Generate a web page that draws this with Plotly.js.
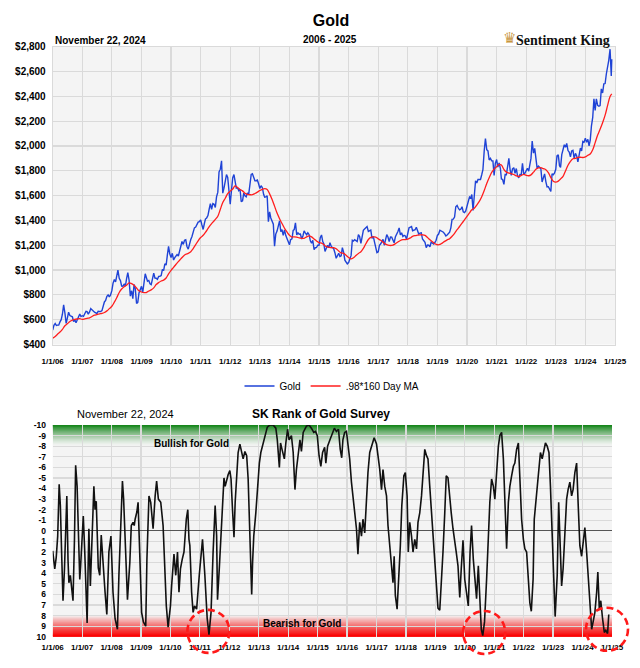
<!DOCTYPE html>
<html><head><meta charset="utf-8">
<script src="https://cdn.plot.ly/plotly-3.0.1.min.js"></script>
<style>html,body{margin:0;padding:0;background:#fff}#chart{width:640px;height:668px}</style>
</head><body><div id="chart"></div>
<script>
// ---------- DATA ----------
// Gold price, semi-monthly: 2006-01-01, then (16th, 1st of next month) for each month
const goldPrice = [517,
 555,569, 553,556, 556,582, 600,644, 720,653, 570,613, 660,633, 625,623, 585,599, 575,604, 625,646, 625,632,
 627,650, 668,665, 645,662, 690,679, 665,660, 655,650, 668,665, 665,673, 712,743, 755,789, 800,783, 800,834,
 895,923, 905,971, 1000,933, 915,871, 870,886, 870,930, 980,918, 790,833, 770,884, 850,730, 740,815, 840,869,
 820,919, 970,942, 910,916, 890,883, 935,975, 935,934, 925,949, 950,955, 1005,996, 1050,1040, 1120,1190, 1130,1100,
 1135,1081, 1100,1116, 1125,1113, 1150,1180, 1230,1207, 1240,1244, 1190,1169, 1215,1246, 1270,1307, 1340,1346, 1370,1386, 1390,1405,
 1365,1327, 1375,1411, 1420,1439, 1490,1535, 1490,1536, 1530,1505, 1590,1628, 1790,1813, 1880,1620, 1660,1722, 1770,1746, 1600,1531,
 1640,1744, 1770,1696, 1660,1662, 1640,1651, 1550,1558, 1620,1598, 1590,1622, 1610,1692, 1770,1776, 1750,1719, 1720,1726, 1695,1657,
 1680,1664, 1610,1588, 1590,1598, 1390,1469, 1420,1394, 1370,1192, 1290,1314, 1360,1396, 1310,1326, 1280,1324, 1280,1253, 1230,1204,
 1245,1251, 1320,1326, 1380,1284, 1300,1288, 1290,1250, 1275,1315, 1300,1285, 1300,1285, 1235,1216, 1240,1164, 1180,1182, 1200,1199,
 1260,1283, 1230,1213, 1150,1183, 1200,1180, 1220,1190, 1180,1172, 1140,1095, 1115,1135, 1110,1115, 1180,1142, 1080,1061, 1050,1060,
 1090,1118, 1240,1234, 1245,1233, 1230,1286, 1270,1215, 1290,1320, 1330,1343, 1350,1311, 1320,1322, 1255,1272, 1225,1178, 1140,1146,
 1200,1212, 1235,1248, 1200,1245, 1285,1266, 1230,1266, 1265,1242, 1220,1269, 1285,1311, 1340,1283, 1300,1270, 1280,1275, 1250,1291,
 1340,1345, 1350,1317, 1320,1325, 1345,1316, 1290,1298, 1300,1250, 1240,1224, 1180,1201, 1200,1187, 1225,1215, 1210,1222, 1240,1279,
 1290,1321, 1315,1313, 1305,1292, 1275,1283, 1295,1305, 1340,1409, 1410,1427, 1510,1520, 1500,1485, 1490,1510, 1470,1464, 1475,1515,
 1555,1589, 1580,1609, 1480,1608, 1720,1702, 1730,1730, 1730,1768, 1810,1962, 2060,1970, 1960,1887, 1900,1880, 1880,1762, 1860,1891,
 1830,1863, 1820,1734, 1730,1691, 1770,1768, 1840,1900, 1810,1763, 1815,1825, 1780,1818, 1760,1743, 1770,1769, 1860,1776, 1780,1806,
 1820,1797, 1860,1900, 2040,1942, 1980,1911, 1820,1837, 1830,1817, 1710,1753, 1775,1711, 1670,1672, 1650,1634, 1775,1768, 1780,1812,
 1920,1928, 1840,1827, 1930,1969, 2010,1990, 2020,1963, 1950,1912, 1960,1965, 1900,1940, 1920,1871, 1920,1983, 1960,2036, 2030,2063,
 2030,2053, 2000,2044, 2160,2230, 2380,2286, 2380,2327, 2320,2326, 2460,2427, 2500,2503, 2580,2634, 2690,2780, 2565];
const goldLastDate = '2024-11-22';
const goldLastPrice = 2700;

// .98 * 160 day moving average, monthly (1st of each month from 2006-01)
const maPrice = [
 451,465,483,500,522,551,567,585,596,602,606,609,
 602,607,611,615,626,637,641,647,651,658,671,689,
 708,741,777,819,847,866,878,897,890,877,855,833,
 823,818,819,831,840,856,883,899,912,919,936,969,
 998,1022,1045,1068,1090,1112,1127,1135,1148,1173,1205,1236,
 1262,1280,1304,1334,1362,1386,1408,1434,1490,1545,1579,1616,
 1636,1653,1678,1666,1649,1638,1619,1610,1607,1607,1617,1628,
 1641,1651,1656,1650,1614,1568,1515,1459,1414,1375,1337,1307,
 1281,1266,1268,1266,1259,1255,1256,1268,1275,1267,1250,1234,
 1221,1217,1205,1189,1184,1180,1181,1171,1153,1138,1135,1120,
 1101,1090,1099,1117,1134,1148,1174,1212,1246,1264,1267,1266,
 1251,1240,1225,1209,1201,1198,1201,1213,1226,1238,1245,1246,
 1249,1259,1272,1278,1281,1284,1284,1280,1262,1244,1228,1212,
 1204,1206,1217,1231,1243,1253,1272,1296,1325,1351,1379,1404,
 1432,1460,1486,1498,1523,1553,1591,1641,1698,1744,1787,1813,
 1833,1852,1846,1811,1789,1782,1778,1770,1759,1754,1762,1771,
 1763,1760,1767,1789,1812,1823,1825,1817,1809,1785,1745,1716,
 1709,1717,1734,1755,1799,1845,1876,1897,1900,1908,1909,1907,
 1912,1925,1935,1969,2027,2088,2135,2187,2248,2325,2399];
const maLastDate = '2024-11-22';
const maLastPrice = 2420;

// SK Rank of Gold Survey (decimal years, rank)
const skYears = [
 2006.00,2006.07,2006.12,2006.17,2006.22,2006.26,2006.31,2006.35,2006.40,2006.44,2006.48,2006.52,2006.55,2006.60,2006.65,2006.69,2006.74,2006.78,2006.83,2006.87,2006.92,2006.95,
 2007.00,2007.04,2007.09,2007.13,2007.17,2007.20,2007.23,2007.28,2007.35,2007.40,2007.44,2007.48,2007.55,2007.60,2007.65,2007.70,2007.78,2007.84,2007.91,2007.98,
 2008.05,2008.12,2008.20,2008.25,2008.31,2008.37,2008.41,2008.48,2008.54,2008.62,2008.67,2008.73,2008.77,2008.80,2008.86,2008.90,2008.96,
 2009.02,2009.08,2009.16,2009.20,2009.27,2009.33,2009.41,2009.48,2009.53,2009.59,2009.67,2009.75,2009.80,2009.86,2009.92,
 2010.00,2010.04,2010.09,2010.12,2010.18,2010.24,2010.29,2010.34,2010.40,2010.46,2010.54,2010.59,2010.63,2010.66,2010.72,2010.77,2010.82,2010.89,2010.98,
 2011.09,2011.17,2011.25,2011.31,2011.38,2011.45,2011.52,2011.57,2011.60,2011.66,2011.71,2011.77,2011.82,2011.86,2011.91,2011.96,
 2012.02,2012.06,2012.11,2012.16,2012.20,2012.25,2012.30,2012.36,2012.41,2012.47,2012.53,2012.59,2012.64,2012.70,2012.76,2012.79,2012.83,2012.90,2012.96,
 2013.02,2013.07,2013.15,2013.21,2013.29,2013.38,2013.49,2013.58,2013.63,2013.70,2013.74,2013.79,2013.87,2013.92,2013.98,
 2014.03,2014.11,2014.17,2014.23,2014.28,2014.34,2014.40,2014.45,2014.51,2014.62,2014.71,2014.79,2014.87,2014.93,2014.99,
 2015.05,2015.11,2015.17,2015.24,2015.28,2015.34,2015.42,2015.50,2015.57,2015.64,2015.71,2015.77,2015.82,2015.86,2015.92,2015.98,
 2016.03,2016.09,2016.15,2016.20,2016.26,2016.32,2016.37,2016.43,2016.49,2016.54,2016.60,2016.66,2016.71,2016.77,2016.85,2016.92,
 2017.00,2017.05,2017.11,2017.17,2017.22,2017.28,2017.34,2017.39,2017.45,2017.51,2017.56,2017.60,2017.64,2017.70,2017.76,2017.81,2017.86,2017.93,2017.98,
 2018.04,2018.08,2018.13,2018.19,2018.24,2018.30,2018.36,2018.41,2018.47,2018.53,2018.58,2018.64,2018.70,2018.75,2018.81,2018.87,2018.92,2018.98,
 2019.03,2019.09,2019.15,2019.20,2019.26,2019.32,2019.37,2019.43,2019.49,2019.54,2019.60,2019.66,2019.71,2019.77,2019.83,2019.88,2019.94,
 2020.00,2020.05,2020.12,2020.18,2020.23,2020.29,2020.34,2020.40,2020.46,2020.51,2020.56,2020.61,2020.67,2020.74,2020.80,2020.85,2020.91,2020.97,
 2021.02,2021.08,2021.14,2021.19,2021.25,2021.31,2021.36,2021.42,2021.48,2021.53,2021.59,2021.65,2021.70,2021.76,2021.82,2021.87,2021.93,2021.99,
 2022.04,2022.10,2022.16,2022.21,2022.26,2022.32,2022.36,2022.40,2022.46,2022.52,2022.57,2022.63,2022.69,2022.74,2022.80,2022.86,2022.91,2022.97,
 2023.03,2023.07,2023.14,2023.19,2023.23,2023.29,2023.34,2023.40,2023.46,2023.51,2023.57,2023.63,2023.68,2023.74,2023.80,2023.85,2023.91,2023.97,
 2024.02,2024.08,2024.14,2024.19,2024.25,2024.31,2024.36,2024.42,2024.48,2024.52,2024.57,2024.62,2024.68,2024.74,2024.79,2024.85,2024.89];
const skRank = [
 1.9,3.6,2.5,0.5,-4.4,-2.4,2.7,6.6,3.6,-1.0,-3.3,2.7,4.9,4.2,5.8,6.6,0.8,-6.2,-4.2,0.8,4.6,3.3,
 1.1,-1.4,2.0,6.0,8.7,4.0,-0.2,5.2,0.2,-4.2,-2.0,-2.8,3.5,4.2,0.4,2.7,5.8,7.9,2.0,0.5,
 5.8,8.3,9.3,4.2,-1.1,-4.7,-3.0,2.7,6.5,3.0,-0.5,-0.8,-0.5,-1.1,-1.8,-2.7,2.7,
 7.7,8.6,9.0,2.7,-3.3,-2.7,-0.2,-3.3,-4.7,-3.0,-2.7,-0.5,3.3,7.1,9.1,
 7.1,5.2,3.3,2.2,4.2,2.0,5.8,3.6,2.7,2.0,-1.1,-2.0,0.8,1.4,5.8,7.7,7.1,7.4,4.2,
 0.8,4.2,8.3,9.8,7.7,2.0,-2.4,0.5,6.5,3.6,0.8,-3.3,-5.0,-4.2,-4.9,-5.3,
 -5.7,-4.9,-2.0,0.6,-2.7,-5.5,-7.4,-8.2,-7.4,-6.8,-7.5,-7.1,-4.9,-0.2,6.0,3.0,0.5,-1.7,-4.2,
 -6.4,-7.4,-8.3,-9.1,-9.8,-10,-10,-9.7,-8.6,-6.0,-8.3,-7.7,-6.8,-8.3,-9.6,
 -8.6,-9.0,-7.4,-3.9,-5.8,-7.1,-8.6,-7.5,-9.3,-9.9,-10,-9.7,-9.3,-9.4,-9.0,
 -7.1,-6.1,-7.4,-7.9,-6.4,-8.0,-8.6,-9.3,-9.7,-9.4,-9.6,-7.7,-6.9,-8.6,-9.3,-9.4,
 -8.3,-6.8,-4.6,-3.3,-1.7,-0.2,2.2,-0.8,0.5,-1.1,0.2,-3.0,-5.5,-7.4,-8.3,-8.8,
 -8.2,-7.1,-5.8,-3.9,-5.8,-4.2,-3.3,-0.5,1.4,3.6,4.9,2.4,6.1,7.4,4.6,1.4,-2.4,-5.2,-5.5,
 -3.3,2.0,-0.8,0.5,2.0,0.8,1.7,-0.8,-1.7,-3.3,-5.5,-7.7,-7.1,-6.8,-4.2,-1.7,0.8,3.3,
 5.5,7.3,7.5,5.2,2.0,-1.7,-5.2,-5.0,-3.0,-1.7,-0.2,0.8,2.0,3.3,6.3,3.6,0.9,
 4.6,5.8,7.1,2.0,-0.5,2.7,4.2,6.4,3.3,6.8,9.3,9.9,8.6,4.6,-0.2,-2.7,-4.9,-4.2,
 -3.0,-5.8,-8.0,-9.0,-9.3,-6.8,-2.4,1.7,-2.7,-4.2,-5.2,-6.1,-6.4,-7.7,-8.3,-4.2,-1.1,0.8,
 1.7,2.0,4.6,6.8,7.6,4.6,-1.1,-2.4,-4.2,-5.5,-7.4,-6.8,-7.7,-8.3,-8.0,-7.4,-4.2,0.8,
 4.6,8.1,4.2,-2.7,0.5,5.2,3.6,0.2,-3.0,-3.9,-4.6,-3.3,-3.9,-5.5,-6.4,-2.7,1.4,2.4,
 1.4,-0.3,2.0,4.2,7.7,9.3,8.6,7.7,5.8,3.9,7.4,6.6,8.3,9.6,9.4,9.7,7.9];

// Tick labels
const yearTicks = ['2006-01-01','2007-01-01','2008-01-01','2009-01-01','2010-01-01','2011-01-01','2012-01-01','2013-01-01','2014-01-01','2015-01-01','2016-01-01','2017-01-01','2018-01-01','2019-01-01','2020-01-01','2021-01-01','2022-01-01','2023-01-01','2024-01-01','2025-01-01'];
const yearTickText = ['1/1/06','1/1/07','1/1/08','1/1/09','1/1/10','1/1/11','1/1/12','1/1/13','1/1/14','1/1/15','1/1/16','1/1/17','1/1/18','1/1/19','1/1/20','1/1/21','1/1/22','1/1/23','1/1/24','1/1/25'];
const priceTicks = [400,600,800,1000,1200,1400,1600,1800,2000,2200,2400,2600,2800];
const priceTickText = ['$400','$600','$800','$1,000','$1,200','$1,400','$1,600','$1,800','$2,000','$2,200','$2,400','$2,600','$2,800'];
const rankTicks = [-10,-9,-8,-7,-6,-5,-4,-3,-2,-1,0,1,2,3,4,5,6,7,8,9,10];
const rankTickText = ['-10','-9','-8','-7','-6','-5','-4','-3','-2','-1','0','1','2','3','4','5','6','7','8','9','10'];

// Highlighted bearish extremes (decimal year, rank)
const circleYears = [2011.29, 2020.66, 2024.83];
const circleRanks = [9.5, 9.6, 9.3];

// ---------- BUILD ----------
function pad(n){return (n<10?'0':'')+n;}
function ymd(d){return d.getUTCFullYear()+'-'+pad(d.getUTCMonth()+1)+'-'+pad(d.getUTCDate());}
function decToDate(y){
  const yi = Math.floor(y);
  const a = Date.UTC(yi,0,1), b = Date.UTC(yi+1,0,1);
  return new Date(a + (y-yi)*(b-a)).toISOString().slice(0,16).replace('T',' ');
}
const goldDates = goldPrice.map((v,i)=> ymd(new Date(Date.UTC(2006, Math.floor(i/2), (i%2)?16:1))));
goldDates.push(goldLastDate);
const goldVals = goldPrice.concat([goldLastPrice]);
const maDates = maPrice.map((v,i)=> ymd(new Date(Date.UTC(2006, i, 1))));
maDates.push(maLastDate);
const maVals = maPrice.concat([maLastPrice]);
const skDates = skYears.map(decToDate);

const X0 = '2006-01-01', X1 = '2025-01-01';
const x0ms = Date.UTC(2006,0,1), x1ms = Date.UTC(2025,0,1);

const traces = [
  {x: goldDates, y: goldVals, type:'scatter', mode:'lines', name:'Gold',
   line:{color:'#1f43d6', width:1.4}, xaxis:'x', yaxis:'y'},
  {x: maDates, y: maVals, type:'scatter', mode:'lines', name:'.98*160 Day MA',
   line:{color:'#ff1e1e', width:1.3, shape:'spline'}, xaxis:'x', yaxis:'y'},
  {x: skDates, y: skRank, type:'scatter', mode:'lines', name:'SK Rank',
   line:{color:'#111', width:1.6}, xaxis:'x2', yaxis:'y2', showlegend:false}
];

// gradient bands (nested translucent rectangles)
const shapes = [];
function band(edge, dir, rgb, gamma){
  const N = 30, depth = 2;
  const A = j => j>=N ? 0 : Math.pow(1 - (j+0.5)/N, gamma);
  for(let j=0;j<N;j++){
    const Aj = A(j), An = A(j+1);
    const a = 1 - (1-Aj)/(1-An);
    shapes.push({type:'rect', xref:'x2', yref:'y2', x0:X0, x1:X1,
      y0: edge, y1: edge + dir*depth*(j+1)/N,
      fillcolor: rgb, opacity: Math.max(0,Math.min(1,a)), line:{width:0}, layer:'below'});
  }
}
band(-10, 1, 'rgb(24,140,30)', 1.5);
band(10, -1, 'rgb(255,0,0)', 0.9);

// dashed circles
circleYears.forEach((yr,i)=>{
  const yi = Math.floor(yr);
  const ms = Date.UTC(yi,0,1) + (yr-yi)*(Date.UTC(yi+1,0,1)-Date.UTC(yi,0,1));
  const xf = (ms - x0ms)/(x1ms - x0ms);
  const yf = (10 - circleRanks[i])/20;
  shapes.push({type:'circle', xref:'x2 domain', yref:'y2 domain',
    xsizemode:'pixel', ysizemode:'pixel', xanchor:xf, yanchor:yf,
    x0:-21, x1:21, y0:-21.5, y1:21.5,
    line:{color:'#ff1a1a', width:2.6, dash:'7px,4px'}, layer:'above'});
});

const H = 668, W = 640;
const fy = p => 1 - p/H, fx = p => p/W;
const tickFont = {family:'Liberation Sans, Arial, sans-serif', size:8, color:'#000', weight:'bold'};

const layout = {
  width:W, height:H,
  margin:{l:0,r:0,t:0,b:0},
  paper_bgcolor:'#ffffff', plot_bgcolor:'#f4f4f4',
  font:{family:'Liberation Sans, Arial, sans-serif', color:'#000'},
  title:{text:'<b>Gold</b>', x:fx(331), y:fy(20), xanchor:'center', yanchor:'middle',
         font:{size:16, color:'#000'}},
  showlegend:true,
  legend:{orientation:'h', x:fx(332), xanchor:'center', y:fy(386), yanchor:'middle',
          font:{size:10, color:'#000'}, bgcolor:'rgba(0,0,0,0)', itemwidth:30, tracegroupgap:0},
  xaxis:{type:'date', domain:[fx(52.7), fx(615)], anchor:'y', range:[X0,X1],
         tickvals:yearTicks, ticktext:yearTickText, tickfont:tickFont,
         ticks:'outside', ticklen:9, tickcolor:'rgba(0,0,0,0)',
         showgrid:true, gridcolor:'#dadada', gridwidth:1.2,
         showline:true, mirror:true, linecolor:'#dadada', linewidth:1, zeroline:false, fixedrange:true},
  yaxis:{domain:[fy(344.5), fy(46.7)], anchor:'x', range:[400,2800],
         tickvals:priceTicks, ticktext:priceTickText,
         tickfont:{family:'Liberation Sans, Arial, sans-serif', size:10, color:'#000', weight:'bold'},
         ticks:'outside', ticklen:4, tickcolor:'rgba(0,0,0,0)',
         showgrid:true, gridcolor:'#dadada', gridwidth:1.2,
         showline:true, mirror:true, linecolor:'#dadada', zeroline:false, fixedrange:true},
  xaxis2:{type:'date', domain:[fx(52.7), fx(612)], anchor:'y2', range:[X0,X1],
          tickvals:yearTicks, ticktext:yearTickText, tickfont:tickFont,
          ticks:'outside', ticklen:3, tickcolor:'rgba(0,0,0,0)',
          showgrid:true, gridcolor:'#dadada', gridwidth:1.2,
          showline:false, zeroline:false, fixedrange:true},
  yaxis2:{domain:[fy(636.7), fy(425)], anchor:'x2', range:[10,-10],
          tickvals:rankTicks, ticktext:rankTickText,
          tickfont:{family:'Liberation Sans, Arial, sans-serif', size:8.5, color:'#000', weight:'bold'},
          ticks:'outside', ticklen:4, tickcolor:'rgba(0,0,0,0)',
          showgrid:true, gridcolor:'#dadada', gridwidth:1.2,
          zeroline:true, zerolinecolor:'#555', zerolinewidth:1.2, showline:false, fixedrange:true},
  shapes: shapes,
  annotations:[
    {text:'<b>2006 - 2025</b>', xref:'paper', yref:'paper', x:fx(330), y:fy(39), showarrow:false,
     xanchor:'center', yanchor:'middle', font:{size:10}},
    {text:'<b>November 22, 2024</b>', xref:'paper', yref:'paper', x:fx(53), y:fy(40), showarrow:false,
     xanchor:'left', yanchor:'middle', font:{size:10}},
    {text:'♛', xref:'paper', yref:'paper', x:fx(509), y:fy(38), showarrow:false,
     xanchor:'center', yanchor:'middle', font:{size:15, family:'DejaVu Sans', color:'#c8963e'}},
    {text:'<b>Sentiment King</b>', xref:'paper', yref:'paper', x:fx(612), y:fy(40), showarrow:false,
     xanchor:'right', yanchor:'middle', font:{size:14, family:'Liberation Serif, serif', color:'#111'}},
    {text:'November 22, 2024', xref:'paper', yref:'paper', x:fx(125), y:fy(414), showarrow:false,
     xanchor:'center', yanchor:'middle', font:{size:11}},
    {text:'<b>SK Rank of Gold Survey</b>', xref:'paper', yref:'paper', x:fx(321), y:fy(414), showarrow:false,
     xanchor:'center', yanchor:'middle', font:{size:12}},
    {text:'<b>Bullish for Gold</b>', xref:'paper', yref:'paper', x:fx(191.5), y:fy(443), showarrow:false,
     xanchor:'center', yanchor:'middle', font:{size:10}},
    {text:'<b>Bearish for Gold</b>', xref:'paper', yref:'paper', x:fx(302), y:fy(623), showarrow:false,
     xanchor:'center', yanchor:'middle', font:{size:10}}
  ]
};

Plotly.newPlot('chart', traces, layout, {displayModeBar:false, staticPlot:true});
</script>
</body></html>
